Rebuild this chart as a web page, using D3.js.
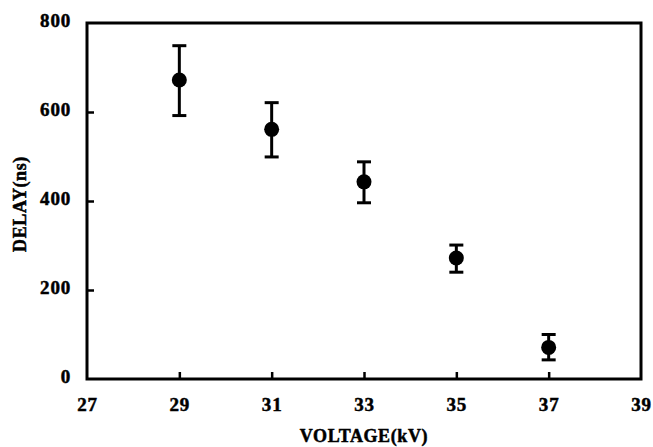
<!DOCTYPE html>
<html>
<head>
<meta charset="utf-8">
<script src="https://cdn.jsdelivr.net/npm/d3@7"></script>
<style>
  body { margin: 0; background: #fff; }
  text { font-family: "Liberation Serif", "Times New Roman", serif; font-weight: bold; fill: #000; stroke: #000; stroke-width: 0.5px; }
</style>
</head>
<body>
<svg id="chart" width="653" height="447"></svg>
<script>
// values
var voltage = [29, 31, 33, 35, 37];
var delay = [672, 561, 443, 272, 71];
var errHigh = [749, 621, 488, 301, 100];
var errLow = [592, 499, 396, 240, 43];
var xTicks = [27, 29, 31, 33, 35, 37, 39];
var yTicks = [0, 200, 400, 600, 800];

var svg = d3.select("#chart"),
    margin = {top: 23, right: 12, bottom: 68, left: 87},
    width = 653 - margin.left - margin.right,
    height = 447 - margin.top - margin.bottom;

var x = d3.scaleLinear().domain([27, 39]).range([0, width]),
    y = d3.scaleLinear().domain([0, 800]).range([height, 0]);

var g = svg.append("g")
    .attr("transform", "translate(" + margin.left + "," + margin.top + ")");

var data = voltage.map(function(v, i) {
    return {v: v, d: delay[i], hi: errHigh[i], lo: errLow[i]};
});

// inward ticks
var xAxis = d3.axisBottom(x).tickValues(xTicks).tickSize(-7).tickPadding(16).tickFormat(d3.format("d"));
var yAxis = d3.axisLeft(y).tickValues(yTicks).tickSize(-7).tickPadding(16).tickFormat(d3.format("d"));

var gx = g.append("g")
    .attr("transform", "translate(0," + height + ")")
    .call(xAxis);
var gy = g.append("g").call(yAxis);

[gx, gy].forEach(function(a) {
    a.select(".domain").remove();
    a.selectAll("line").attr("stroke", "#000").attr("stroke-width", 2.5);
    a.selectAll("text")
        .style("font-size", "19px")
        .style("letter-spacing", "0.8px")
        .attr("fill", "#000");
});
gx.selectAll(".tick").filter(function(d) { return d == 27 || d == 39; }).select("line").remove();
gy.selectAll(".tick").filter(function(d) { return d == 0 || d == 800; }).select("line").remove();
gy.selectAll("text").attr("dy", "0.2em");
gx.selectAll("text").attr("dy", "0.85em");

// frame
g.append("rect")
    .attr("x", 0).attr("y", 0)
    .attr("width", width).attr("height", height)
    .attr("fill", "none")
    .attr("stroke", "#000")
    .attr("stroke-width", 3);

// error bars
var bars = g.selectAll(".err").data(data).enter().append("g").attr("class", "err")
    .attr("stroke", "#000").attr("stroke-width", 3);
bars.append("line")
    .attr("x1", function(d) { return x(d.v); }).attr("x2", function(d) { return x(d.v); })
    .attr("y1", function(d) { return y(d.hi); }).attr("y2", function(d) { return y(d.lo); });
bars.append("line")
    .attr("x1", function(d) { return x(d.v) - 7; }).attr("x2", function(d) { return x(d.v) + 7; })
    .attr("y1", function(d) { return y(d.hi); }).attr("y2", function(d) { return y(d.hi); });
bars.append("line")
    .attr("x1", function(d) { return x(d.v) - 7; }).attr("x2", function(d) { return x(d.v) + 7; })
    .attr("y1", function(d) { return y(d.lo); }).attr("y2", function(d) { return y(d.lo); });

g.selectAll(".dot").data(data).enter().append("circle")
    .attr("class", "dot")
    .attr("cx", function(d) { return x(d.v); })
    .attr("cy", function(d) { return y(d.d); })
    .attr("r", 7.5)
    .attr("fill", "#000");

// axis titles
svg.append("text")
    .attr("x", 364).attr("y", 442)
    .attr("text-anchor", "middle")
    .style("font-size", "18px")
    .style("letter-spacing", "0.6px")
    .text("VOLTAGE(kV)");

svg.append("text")
    .attr("transform", "translate(26,204) rotate(-90)")
    .attr("text-anchor", "middle")
    .style("font-size", "18px")
    .style("letter-spacing", "0.6px")
    .text("DELAY(ns)");
</script>
</body>
</html>
